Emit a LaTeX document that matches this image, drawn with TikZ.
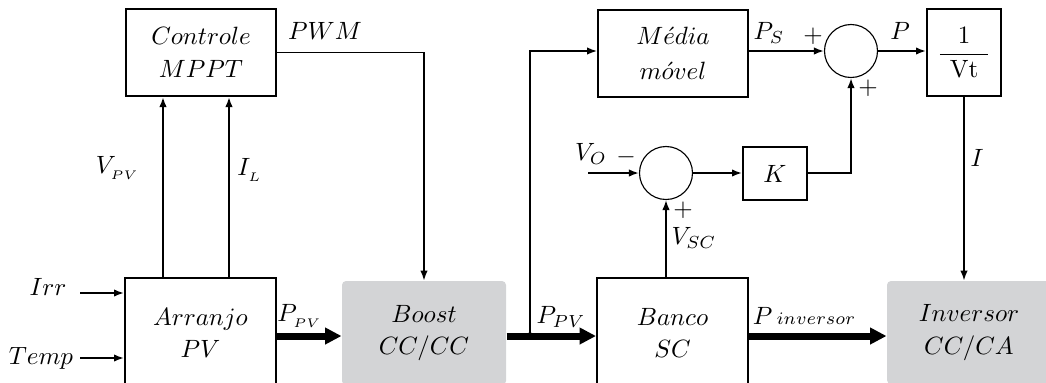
\documentclass[tikz,border=0pt]{standalone}
\usepackage{amsmath}
\usetikzlibrary{arrows.meta,calc}
\definecolor{boxgray}{RGB}{211,212,214}
\begin{document}
\begin{tikzpicture}[x=0.4pt,y=-0.4pt,
  blk/.style={draw,line width=0.8pt,inner sep=0pt,align=center},
  gblk/.style={fill=boxgray,rounded corners=1.6pt,inner sep=0pt,align=center},
  sumc/.style={draw,circle,line width=0.45pt,minimum size=21.2pt,inner sep=0pt},
  sig/.style={line width=0.75pt,-{Latex[length=4pt,width=3pt]}},
  pwr/.style={line width=2.8pt,-{Triangle[length=6.6pt,width=6.4pt]}},
  lbl/.style={inner sep=0pt}
]
\useasboundingbox (0,0) rectangle (1046,382);
% blocks
\node[blk,minimum width=60pt,minimum height=34.8pt] (ctl) at (201,52.5) {$Controle$\\[1pt]$MPPT$};
\node[blk,minimum width=60.4pt,minimum height=44pt] (arr) at (200.5,333) {$Arranjo$\\[1pt]$PV$};
\node[gblk,minimum width=65.6pt,minimum height=41.6pt] (boost) at (424,333) {$Boost$\\[1pt]$CC/CC$};
\node[blk,minimum width=60.4pt,minimum height=44pt] (banco) at (672.5,333) {$Banco$\\[1pt]$SC$};
\node[gblk,minimum width=65.6pt,minimum height=41.2pt] (inv) at (969,332.5) {$Inversor$\\[1pt]$CC/CA$};
\node[blk,minimum width=60pt,minimum height=34.8pt] (media) at (673,53) {$M\acute{e}dia$\\[2pt]$m\acute{o}vel$};
\node[blk,minimum width=29.6pt,minimum height=34.8pt] (vt) at (964,52.5) {$\dfrac{1}{\hspace{4pt}\mathrm{Vt}\hspace{4pt}}$};
\node[blk,minimum width=25.6pt,minimum height=21.2pt] (k) at (775,173.5) {$K$};
\node[sumc] (s1) at (851,51) {};
\node[sumc] (s2) at (666,173) {};
% helper coordinates
\coordinate (xvpv) at (163,0);
\coordinate (xil) at (229,0);
\coordinate (irr) at (80,293);
\coordinate (temp) at (80,358);
\coordinate (jn) at (530,336);
\coordinate (vo) at (588,173);
% MPPT signals
\draw[sig,line width=0.85pt] (arr.north -| xvpv) -- (ctl.south -| xvpv);
\draw[sig,line width=0.85pt] (arr.north -| xil) -- (ctl.south -| xil);
\draw[sig,line width=0.6pt] (ctl.east) -| (boost.north);
\draw[sig] (irr) -- (irr -| arr.west);
\draw[sig] (temp) -- (temp -| arr.west);
% power flow
\draw[pwr] (arr.east |- jn) -- (boost.west |- jn);
\draw[pwr] (boost.east |- jn) -- (banco.west |- jn);
\draw[pwr] (banco.east |- jn) -- (inv.west |- jn);
\fill (jn) circle (1.5pt);
% control loop
\draw[sig,line width=0.6pt] (jn) |- (media.west |- s1);
\draw[sig] (media.east |- s1) -- (s1.west);
\draw[sig] (s1.east) -- (vt.west |- s1);
\draw[sig,line width=0.6pt] (vt.south) -- (vt.south |- inv.north);
\draw[sig] (vo) -- (s2.west);
\draw[sig] (s2.east) -- (k.west |- s2);
\draw[sig] (k.east |- s2) -| (s1.south);
\draw[sig,line width=0.6pt] (banco.north -| s2) -- (s2.south);
% labels
\node[lbl] (lpwm) at (325,31) {$PWM$};
\node[lbl] (lvpv) at (118,168) {$V_{_{PV}}$};
\node[lbl] (lil) at (250,170) {$I_{_L}$};
\node[lbl] (lirr) at (48,287) {$Irr$};
\node[lbl] (ltemp) at (41,358) {$Temp$};
\node[lbl] (lppv1) at (300,316) {$P_{_{PV}}$};
\node[lbl] (lppv2) at (561,317) {$P_{PV}$};
\node[lbl] (lpinv) at (804,316) {$P\,{\scriptstyle inversor}$};
\node[lbl] (lps) at (769,33) {$P_S$};
\node[lbl] (lp1) at (813,36) {$+$};
\node[lbl] (lp2) at (868,88) {$+$};
\node[lbl] (lp) at (900,31) {$P$};
\node[lbl] (lvo) at (591,154) {$V_O$};
\node[lbl] (lm) at (626,157) {$-$};
\node[lbl] (lp3) at (683,210) {$+$};
\node[lbl] (lvsc) at (694,238) {$V_{SC}$};
\node[lbl] (li) at (977,158) {$I$};
\end{tikzpicture}
\end{document}
